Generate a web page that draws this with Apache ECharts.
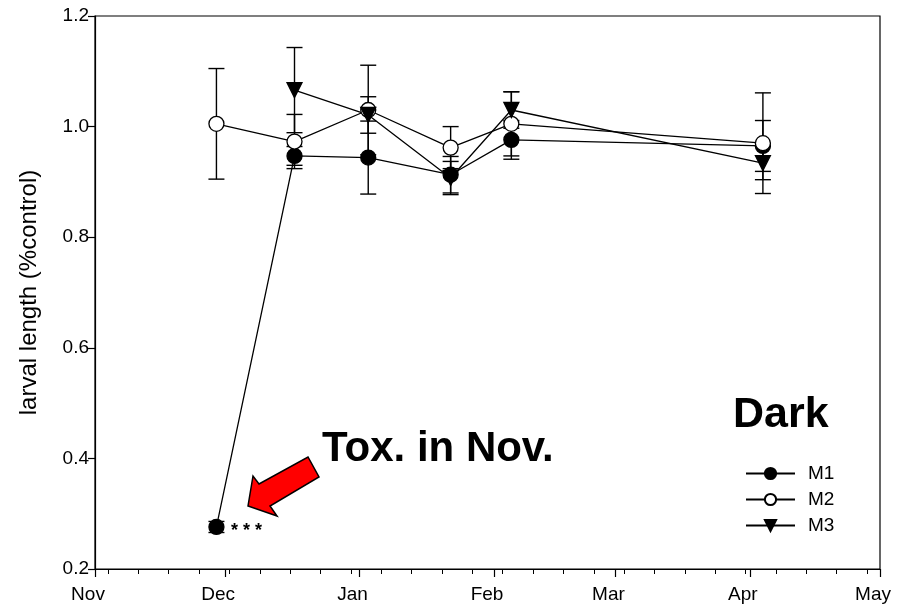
<!DOCTYPE html>
<html>
<head>
<meta charset="utf-8">
<script src="https://cdn.jsdelivr.net/npm/echarts@6/dist/echarts.min.js"></script>
<style>
  html, body { margin: 0; padding: 0; background: #fff; }
  #chart { width: 897px; height: 612px; }
</style>
</head>
<body>
<div id="chart"></div>
<script>
// x values are days counted from 1 Nov
const sampleDays = [28, 46, 63, 82, 96, 154]
const monthDays = [0, 30, 61, 92, 120, 151, 181]
const monthLabels = ['Nov', 'Dec', 'Jan', 'Feb', 'Mar', 'Apr', 'May']
const weekTickDays = [3, 10, 17, 24, 31, 38, 45, 52, 59, 66, 73, 80, 87, 94, 101, 108, 115, 122, 129, 136, 143, 150, 157, 164, 171, 178]

const m1 = [0.276, 0.947, 0.944, 0.913, 0.976, 0.965]
const m1Err = [0.010, 0.017, 0.066, 0.033, 0.035, 0.046]
const m2 = [1.005, 0.973, 1.030, 0.962, 1.005, 0.970]
const m2Err = [0.100, 0.049, 0.081, 0.038, 0.058, 0.091]
const m3 = [null, 1.066, 1.021, 0.907, 1.030, 0.934]
const m3Err = [null, 0.077, 0.033, 0.030, 0.033, 0.030]

const FONT = 'Liberation Sans, Arial, sans-serif'
const chart = echarts.init(document.getElementById('chart'))

function pairs(vals) {
  return sampleDays.map((d, i) => vals[i] == null ? null : [d, vals[i]]).filter(p => p)
}
function errRows(vals, errs) {
  return sampleDays.map((d, i) => vals[i] == null ? null : [d, vals[i] - errs[i], vals[i] + errs[i]]).filter(p => p)
}

function renderErr(params, api) {
  const lo = api.coord([api.value(0), api.value(1)])
  const hi = api.coord([api.value(0), api.value(2)])
  const half = 8
  const style = { stroke: '#000', lineWidth: 1.4 }
  return {
    type: 'group',
    children: [
      { type: 'line', shape: { x1: lo[0], y1: lo[1], x2: hi[0], y2: hi[1] }, style },
      { type: 'line', shape: { x1: lo[0] - half, y1: lo[1], x2: lo[0] + half, y2: lo[1] }, style },
      { type: 'line', shape: { x1: hi[0] - half, y1: hi[1], x2: hi[0] + half, y2: hi[1] }, style }
    ]
  }
}

function errSeries(vals, errs) {
  return {
    type: 'custom',
    xAxisIndex: 0,
    renderItem: renderErr,
    data: errRows(vals, errs),
    silent: true,
    z: 1
  }
}

function lineSeries(name, vals, symbol, fill, rotate) {
  return {
    name,
    type: 'line',
    xAxisIndex: 0,
    data: pairs(vals),
    symbol,
    symbolSize: 15,
    symbolRotate: rotate || 0,
    showAllSymbol: true,
    lineStyle: { color: '#000', width: 1.3 },
    itemStyle: { color: fill, borderColor: '#000', borderWidth: 1.3 },
    z: 3,
    animation: false
  }
}

chart.setOption({
  backgroundColor: '#fff',
  animation: false,
  grid: {
    left: 95, right: 17, top: 16, bottom: 43,
    show: true, borderColor: '#000', borderWidth: 1.2
  },
  xAxis: [{
    type: 'value',
    min: 0,
    max: 181,
    splitLine: { show: false },
    axisLine: { lineStyle: { color: '#000', width: 1.2 } },
    axisTick: { customValues: monthDays, length: 8, inside: false, lineStyle: { color: '#000', width: 1.2 } },
    axisLabel: {
      customValues: monthDays,
      formatter: v => monthLabels[monthDays.indexOf(v)] || '',
      color: '#000', fontSize: 19, fontFamily: FONT, margin: 16,
      padding: [0, 14, 0, 0]
    }
  }, {
    type: 'value',
    min: 0,
    max: 181,
    position: 'bottom',
    splitLine: { show: false },
    axisLine: { show: false },
    axisTick: { customValues: weekTickDays, length: 5, lineStyle: { color: '#000', width: 1 } },
    axisLabel: { show: false }
  }],
  yAxis: {
    type: 'value',
    min: 0.2,
    max: 1.2,
    interval: 0.2,
    name: 'larval length (%control)',
    nameLocation: 'middle',
    nameGap: 54,
    nameTextStyle: { color: '#000', fontSize: 24, fontFamily: FONT },
    splitLine: { show: false },
    axisLine: { lineStyle: { color: '#000', width: 1.2 } },
    axisTick: { length: 7, lineStyle: { color: '#000', width: 1.2 } },
    axisLabel: { formatter: v => v.toFixed(1), color: '#000', fontSize: 19, fontFamily: FONT, margin: 6 }
  },
  legend: {
    orient: 'vertical',
    left: 740,
    top: 459,
    itemWidth: 49,
    itemHeight: 14,
    itemGap: 7,
    data: ['M1', 'M2', 'M3'],
    textStyle: { color: '#000', fontSize: 19, fontFamily: FONT, padding: [0, 0, 0, 8] }
  },
  series: [
    errSeries(m1, m1Err),
    errSeries(m2, m2Err),
    errSeries(m3, m3Err),
    lineSeries('M1', m1, 'circle', '#000'),
    lineSeries('M2', m2, 'circle', '#fff'),
    lineSeries('M3', m3, 'triangle', '#000', 180)
  ],
  graphic: [
    {
      type: 'polygon',
      shape: { points: [[248, 506], [253, 476], [259, 484], [308, 457], [319, 477], [270, 506], [277, 516]] },
      style: { fill: '#ff0000', stroke: '#000', lineWidth: 1.5 },
      z: 10
    },
    {
      type: 'text', left: 322, top: 428,
      style: { text: 'Tox. in Nov.', font: 'bold 42px ' + FONT, fill: '#000' },
      z: 10
    },
    {
      type: 'text', left: 733, top: 394,
      style: { text: 'Dark', font: 'bold 43px ' + FONT, fill: '#000' },
      z: 10
    },
    {
      type: 'text', left: 231, top: 522,
      style: { text: '* * *', font: 'bold 18px ' + FONT, fill: '#000' },
      z: 10
    }
  ]
})
</script>
</body>
</html>
